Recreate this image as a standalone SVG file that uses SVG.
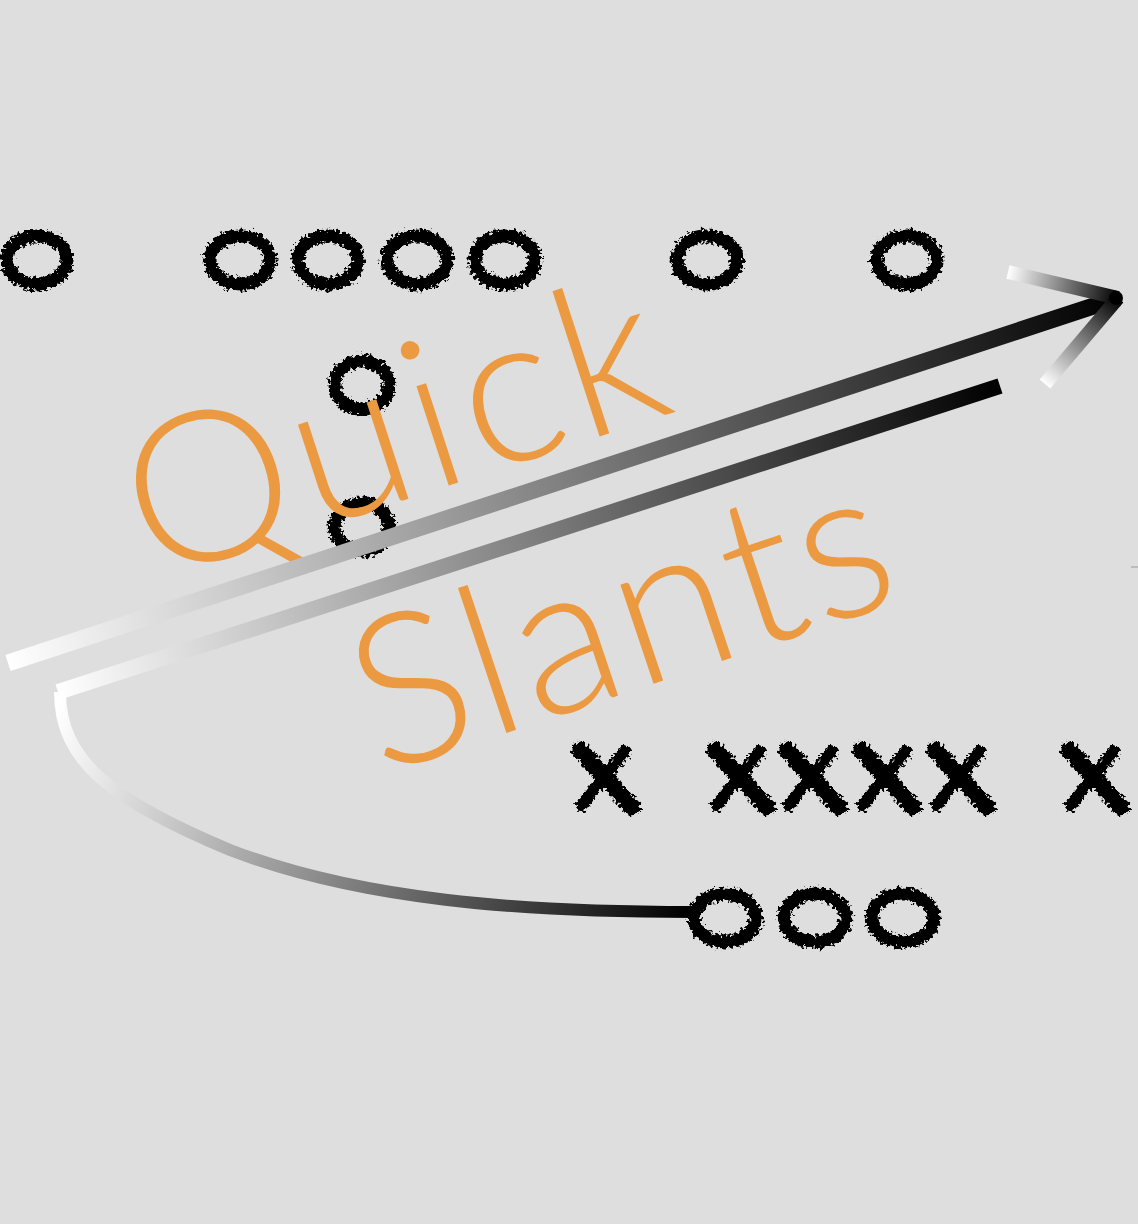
<svg xmlns="http://www.w3.org/2000/svg" width="1138" height="1224" viewBox="0 0 1138 1224">
<style>
.o{fill:none;stroke:#000;stroke-width:13;filter:url(#rough)}
.x{fill:none;stroke:#000;stroke-linecap:round;filter:url(#rough)}
.t{font-family:Lato,"Open Sans","Liberation Sans",sans-serif;font-weight:300;fill:#ec9a42;font-size:210px}
</style>
<defs>
<filter id="rough" x="-20%" y="-20%" width="140%" height="140%">
<feTurbulence type="fractalNoise" baseFrequency="0.3" numOctaves="3" seed="5" result="n"/>
<feDisplacementMap in="SourceGraphic" in2="n" scale="10" xChannelSelector="R" yChannelSelector="G"/>
</filter>
<linearGradient id="g1" gradientUnits="userSpaceOnUse" x1="8" y1="663" x2="1118" y2="298"><stop offset="0" stop-color="#fff"/><stop offset="1" stop-color="#000"/></linearGradient>
<linearGradient id="g2" gradientUnits="userSpaceOnUse" x1="58" y1="692" x2="1000" y2="386"><stop offset="0" stop-color="#fff"/><stop offset="1" stop-color="#000"/></linearGradient>
<linearGradient id="g3" gradientUnits="userSpaceOnUse" x1="60" y1="700" x2="690" y2="912"><stop offset="0" stop-color="#fff"/><stop offset="1" stop-color="#000"/></linearGradient>
<linearGradient id="g4" gradientUnits="userSpaceOnUse" x1="1008" y1="272" x2="1118" y2="298"><stop offset="0" stop-color="#fff"/><stop offset="1" stop-color="#000"/></linearGradient>
<linearGradient id="g5" gradientUnits="userSpaceOnUse" x1="1045" y1="384" x2="1118" y2="298"><stop offset="0" stop-color="#fff"/><stop offset="1" stop-color="#000"/></linearGradient>
</defs>
<rect width="1138" height="1224" fill="#dedede"/>
<g id="defense">
<ellipse id="d1" class="o" cx="37" cy="260" rx="30" ry="24"/>
<ellipse id="d2" class="o" cx="240" cy="260" rx="30" ry="24"/>
<ellipse id="d3" class="o" cx="328" cy="260" rx="30" ry="24"/>
<ellipse id="d4" class="o" cx="417" cy="260" rx="30" ry="24"/>
<ellipse id="d5" class="o" cx="505" cy="260" rx="30" ry="24"/>
<ellipse id="d6" class="o" cx="707" cy="260" rx="30" ry="24"/>
<ellipse id="d7" class="o" cx="907" cy="260" rx="30" ry="24"/>
<ellipse id="d8" class="o" cx="362" cy="385" rx="27" ry="24"/>
<ellipse id="d9" class="o" cx="362" cy="527" rx="27" ry="24"/>
</g>
<g id="offense">
<g id="x1" transform="translate(605,778)"><path class="x" stroke-width="17" d="M-25,-28 L27,29"/><path class="x" stroke-width="12" d="M20,-27 L-24,28"/></g>
<g id="x2" transform="translate(740,778)"><path class="x" stroke-width="17" d="M-25,-28 L27,29"/><path class="x" stroke-width="12" d="M20,-27 L-24,28"/></g>
<g id="x3" transform="translate(812,778)"><path class="x" stroke-width="17" d="M-25,-28 L27,29"/><path class="x" stroke-width="12" d="M20,-27 L-24,28"/></g>
<g id="x4" transform="translate(886,778)"><path class="x" stroke-width="17" d="M-25,-28 L27,29"/><path class="x" stroke-width="12" d="M20,-27 L-24,28"/></g>
<g id="x5" transform="translate(960,778)"><path class="x" stroke-width="17" d="M-25,-28 L27,29"/><path class="x" stroke-width="12" d="M20,-27 L-24,28"/></g>
<g id="x6" transform="translate(1094,778)"><path class="x" stroke-width="17" d="M-25,-28 L27,29"/><path class="x" stroke-width="12" d="M20,-27 L-24,28"/></g>
</g>
<g id="backs">
<ellipse id="b1" class="o" cx="725" cy="918" rx="31" ry="24"/>
<ellipse id="b2" class="o" cx="815" cy="918" rx="31" ry="24"/>
<ellipse id="b3" class="o" cx="903" cy="918" rx="31" ry="24"/>
</g>
<g id="title">
<text class="t" letter-spacing="7" transform="translate(152,582) rotate(-18)">Quick</text>
<text class="t" letter-spacing="4" transform="translate(381,775) rotate(-18.5)">Slants</text>
</g>
<g id="connectors" fill="none">
<path d="M8,663 L1118,298" stroke="url(#g1)" stroke-width="17"/>
<path d="M1000,386 L58,692" stroke="url(#g2)" stroke-width="16"/>
<path d="M60,692 C60,760 110,800 230,850 C360,900 520,912 693,912" stroke="url(#g3)" stroke-width="12"/>
<path d="M1008,272 L1118,298" stroke="url(#g4)" stroke-width="14"/>
<path d="M1045,384 L1118,298" stroke="url(#g5)" stroke-width="14"/>
<circle cx="1116" cy="298" r="7" fill="#000"/>
<path d="M1131,567 L1138,567" stroke="#999" stroke-width="1"/>
</g>
</svg>
